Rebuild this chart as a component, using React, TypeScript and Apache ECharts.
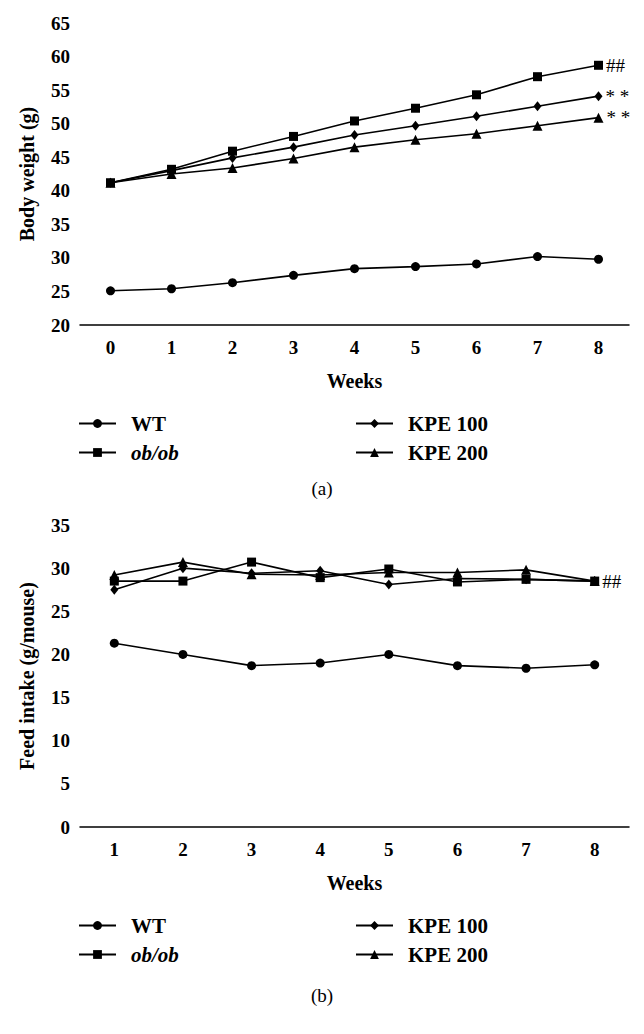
import React, { useEffect, useRef } from "react";
import * as echarts from "echarts";

const weeksA = ["0", "1", "2", "3", "4", "5", "6", "7", "8"];
const weeksB = ["1", "2", "3", "4", "5", "6", "7", "8"];
const yTicksA = { min: 20, max: 65, interval: 5 };
const yTicksB = { min: 0, max: 35, interval: 5 };

const wtA = [25.1, 25.4, 26.3, 27.4, 28.4, 28.7, 29.1, 30.2, 29.8];
const obA = [41.2, 43.2, 45.9, 48.1, 50.4, 52.3, 54.3, 57.0, 58.7];
const kpe100A = [41.2, 43.0, 44.9, 46.5, 48.3, 49.7, 51.1, 52.6, 54.1];
const kpe200A = [41.2, 42.5, 43.4, 44.8, 46.5, 47.6, 48.5, 49.7, 50.9];

const wtB = [21.3, 20.0, 18.7, 19.0, 20.0, 18.7, 18.4, 18.8];
const obB = [28.5, 28.5, 30.7, 28.9, 29.9, 28.4, 28.7, 28.5];
const kpe100B = [27.5, 30.0, 29.4, 29.7, 28.1, 28.8, 28.7, 28.5];
const kpe200B = [29.2, 30.7, 29.3, 29.2, 29.5, 29.5, 29.8, 28.5];

const names = ["WT", "ob/ob", "KPE 100", "KPE 200"];
const symbols = ["circle", "rect", "diamond", "triangle"];
const symbolSizes = [9, 9, [8, 10], 10];
const annotA = ["", "##", "* *", "* *"];
const annotB = ["", "##", "", ""];

const FONT = "Liberation Serif";

export default function App() {
  const ref = useRef<HTMLDivElement>(null);
  useEffect(() => {
    if (!ref.current) return;
    const chart = echarts.init(ref.current, null, { renderer: "svg" });

    const withLabel = (vals: number[], annot: string) =>
      vals.map((v, i) =>
        i === vals.length - 1 && annot
          ? {
              value: v,
              label: {
                show: true,
                position: "right",
                distance: 3,
                formatter: annot,
                color: "#000",
                fontFamily: FONT,
                fontSize: 19,
              },
            }
          : v
      );

    const mkSeries = (gi: number, sets: number[][], annot: string[]) =>
      sets.map((vals, k) => ({
        type: "line",
        name: names[k],
        xAxisIndex: gi,
        yAxisIndex: gi,
        data: withLabel(vals, annot[k]),
        symbol: symbols[k],
        symbolSize: symbolSizes[k],
        showAllSymbol: true,
        lineStyle: { color: "#000", width: 1.6 },
        itemStyle: { color: "#000" },
        z: 3 + k,
      }));

    const axisCommon = {
      axisLine: { lineStyle: { color: "#000", width: 1.5 } },
      axisTick: { inside: true, length: 5, lineStyle: { color: "#000", width: 1.5 } },
      axisLabel: { color: "#000", fontFamily: FONT, fontWeight: "bold", fontSize: 19 },
      splitLine: { show: false },
      nameTextStyle: { color: "#000", fontFamily: FONT, fontWeight: "bold", fontSize: 20 },
    };

    const xAxis = (gi: number, cats: string[]) => ({
      ...axisCommon,
      type: "category",
      gridIndex: gi,
      data: cats,
      boundaryGap: true,
      name: "Weeks",
      nameLocation: "middle",
      nameGap: 46,
      axisLabel: { ...axisCommon.axisLabel, margin: 13 },
    });
    const yAxis = (gi: number, t: any, name: string) => ({
      ...axisCommon,
      type: "value",
      gridIndex: gi,
      min: t.min,
      max: t.max,
      interval: t.interval,
      name,
      nameLocation: "middle",
      nameGap: 43,
      axisLabel: { ...axisCommon.axisLabel, margin: 10 },
    });

    const legendPos = [
      { left: 78, dy: 0 },
      { left: 78, dy: 29 },
      { left: 355, dy: 0 },
      { left: 355, dy: 29 },
    ];
    const legends: any[] = [];
    [413, 915].forEach((top) => {
      names.forEach((n, k) => {
        legends.push({
          data: [n],
          left: legendPos[k].left,
          top: top + legendPos[k].dy,
          padding: 0,
          itemWidth: 37,
          itemHeight: 11,
          selectedMode: false,
          formatter: (name: string) => (name === "ob/ob" ? "{i|ob/ob}" : name),
          textStyle: {
            color: "#000",
            fontFamily: FONT,
            fontWeight: "bold",
            fontSize: 21,
            lineHeight: 21,
            padding: [0, 0, 0, 10],
            rich: {
              i: {
                fontStyle: "italic",
                fontWeight: "bold",
                fontFamily: FONT,
                fontSize: 21,
                color: "#000",
              },
            },
          },
        });
      });
    });

    chart.setOption({
      animation: false,
      backgroundColor: "#fff",
      title: [
        {
          text: "(a)",
          left: "center",
          top: 474,
          textStyle: { color: "#000", fontFamily: FONT, fontWeight: "normal", fontSize: 19 },
        },
        {
          text: "(b)",
          left: "center",
          top: 981,
          textStyle: { color: "#000", fontFamily: FONT, fontWeight: "normal", fontSize: 19 },
        },
      ],
      legend: legends,
      grid: [
        { left: 80, top: 23, width: 549, height: 302 },
        { left: 80, top: 525, width: 549, height: 302 },
      ],
      xAxis: [xAxis(0, weeksA), xAxis(1, weeksB)],
      yAxis: [
        yAxis(0, yTicksA, "Body weight (g)"),
        yAxis(1, yTicksB, "Feed intake (g/mouse)"),
      ],
      series: [
        ...mkSeries(0, [wtA, obA, kpe100A, kpe200A], annotA),
        ...mkSeries(1, [wtB, obB, kpe100B, kpe200B], annotB),
      ],
    });
    return () => chart.dispose();
  }, []);
  return (
    <div
      ref={ref}
      style={{ position: "absolute", left: 0, top: 0, width: 644, height: 1034, background: "#fff" }}
    />
  );
}
